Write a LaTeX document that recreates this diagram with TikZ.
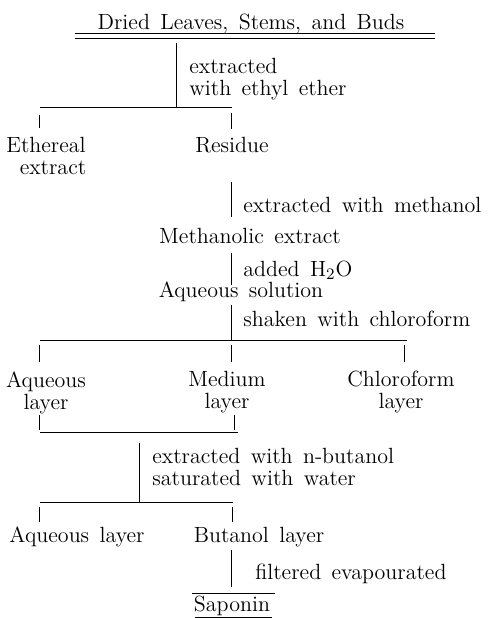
\documentclass[tikz,border=0pt]{standalone}
\usepackage{tikz}
\usetikzlibrary{positioning}
\newcommand{\widespace}{\spaceskip=5.2pt plus 1pt minus 1pt\relax}
\tikzstyle{txt} = [inner sep=0pt, font={\fontsize{11}{11}\selectfont\widespace}]
\tikzstyle{note} = [txt, align=left]
\tikzstyle{product} = [txt, align=center]
\tikzstyle{link} = [line width=0.5pt]

\begin{document}
\begin{tikzpicture}[x=0.5pt,y=-0.5pt]
\useasboundingbox (0,0) rectangle (490,618);

% starting material
\node[txt, anchor=base] (title) at (251,29) {Dried Leaves, Stems, and Buds};
\draw[line width=0.4pt] (75,33) -- (435,33);
\draw[line width=0.4pt] (75,38) -- (435,38);

% ether extraction
\coordinate (s1) at (177,43);
\coordinate (j1) at (177,107);
\draw[link] (s1) -- (j1);
\node[note, anchor=north west] (ethnote) at (189,58) {extracted\\with ethyl ether};
\draw[link] (40,107) -- (232,107);
\node[product, anchor=north] (ether) at (46,137) {Ethereal\\\hspace*{7pt}extract};
\node[txt, anchor=base] (residue) at (232,152) {Residue};
\draw[link] (40,115) -- (40,128);
\draw[link] (232,113) -- (232,129);

% methanol
\coordinate (s2) at (232,182);
\coordinate (e2) at (232,217);
\draw[link] (s2) -- (e2);
\node[txt, anchor=base west] (menote) at (243,212) {extracted with methanol};
\node[txt, anchor=base] (methx) at (250,243) {Methanolic extract};

% water
\coordinate (s3) at (232,253);
\coordinate (e3) at (232,285);
\draw[link] (s3) -- (e3);
\node[txt, anchor=base west] (wnote) at (243,276) {added H$_2$O};
\node[txt, anchor=base] (aqsol) at (241,297) {Aqueous solution};

% chloroform
\coordinate (s4) at (232,305);
\coordinate (j4) at (232,340);
\draw[link] (s4) -- (j4);
\node[txt, anchor=base west] (chnote) at (243,326) {shaken with chloroform};
\draw[link] (40,340) -- (407,340);
\draw[link] (40,345) -- (40,362);
\draw[link] (232,345) -- (232,362);
\draw[link] (405,345) -- (405,362);
\node[product, anchor=north] (aqlayer) at (46,371) {Aqueous\\layer};
\node[product, anchor=north] (medlayer) at (227,371) {Medium\\layer};
\node[product, anchor=north] (chlayer) at (401,371) {Chloroform\\layer};

% butanol
\draw[link] (40,415) -- (40,430);
\draw[link] (235,415) -- (235,430);
\draw[link] (40,432) -- (238,432);
\coordinate (s5) at (140,443);
\coordinate (j5) at (140,502);
\draw[link] (s5) -- (j5);
\node[note, anchor=north west] (bunote) at (152,448) {extracted with n-butanol\\saturated with water};
\draw[link] (40,502) -- (233,502);
\draw[link] (40,507) -- (40,522);
\draw[link] (233,507) -- (233,522);
\node[txt, anchor=base] (aqlayer2) at (77,542) {Aqueous layer};
\node[txt, anchor=base] (bulayer) at (259,542) {Butanol layer};

% final step
\coordinate (s6) at (232,550);
\coordinate (e6) at (232,587);
\draw[link] (s6) -- (e6);
\node[txt, anchor=base west] (finote) at (255,579) {filtered evapourated};
\node[txt, anchor=base] (saponin) at (232,611) {Saponin};
\draw[line width=0.4pt] (192,593) -- (275,593);
\draw[line width=0.4pt] (195,617) -- (272,617);
\end{tikzpicture}
\end{document}
